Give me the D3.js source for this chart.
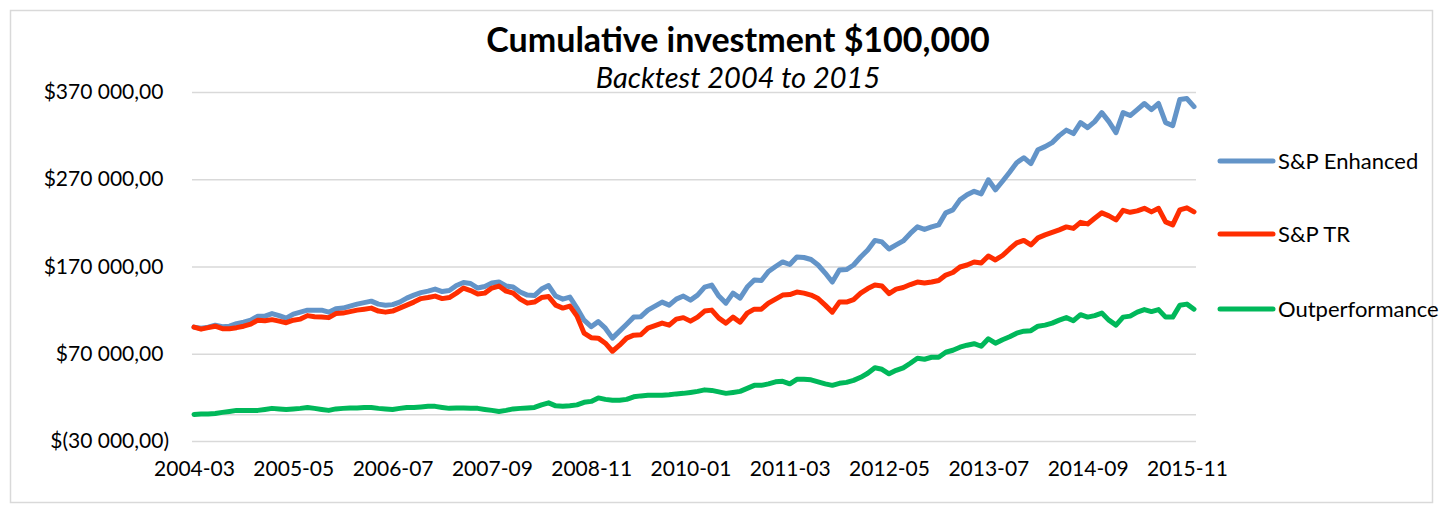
<!DOCTYPE html>
<html>
<head>
<meta charset="utf-8">
<script src="https://cdn.jsdelivr.net/npm/d3@7/dist/d3.min.js"></script>
<style>
  body { margin: 0; background: #fff; }
  text { font-family: Lato, "Open Sans", sans-serif; fill: #000; }
</style>
</head>
<body>
<div id="chart"></div>
<script>
// monthly categories 2004-03 .. 2015-12
const months = [];
for (let k = 0; k < 142; k++) {
  const m = 2 + k;
  months.push(`${2004 + Math.floor(m / 12)}-${String(m % 12 + 1).padStart(2, "0")}`);
}

const tickLabels = ["2004-03", "2005-05", "2006-07", "2007-09", "2008-11", "2010-01",
  "2011-03", "2012-05", "2013-07", "2014-09", "2015-11"];

const yTicks = [-30000, 70000, 170000, 270000, 370000];

const seriesNames = ["S&P Enhanced", "S&P TR", "Outperformance"];

const enhanced = [
  100500, 99300, 100500, 102800, 101000, 101600, 104500, 106200, 108500, 113100,
  113100, 116000, 113700, 110800, 115400, 117700, 120000, 120000, 120000, 117700,
  121700, 122300, 124600, 126900, 128600, 130300, 126900, 125700, 126300, 129200,
  133800, 137200, 140100, 141800, 144100, 141300, 142400, 148200, 151600, 150500,
  145300, 147000, 151000, 152200, 147600, 146400, 140700, 137200, 136700, 144100,
  148200, 136100, 132600, 134900, 122300, 108500, 101000, 106800, 99300, 87900,
  95900, 103900, 112000, 112500, 120000, 124600, 129200, 125700, 132600, 136100,
  131500, 137200, 146400, 148700, 136100, 128000, 139500, 133800, 146400, 154500,
  153900, 164300, 170000, 175200, 172300, 180900, 180300, 178000, 171700, 162500,
  152200, 166000, 166500, 171700, 180900, 189000, 199900, 198200, 190100, 194700,
  199300, 207900, 215400, 212500, 215400, 217700, 231500, 234900, 246400, 252200,
  256200, 253300, 269400, 257900, 267700, 278000, 289000, 294700, 287800, 303900,
  307400, 312000, 320000, 326300, 322300, 334900, 329200, 336100, 346400, 336100,
  323400, 346400, 343000, 349900, 356800, 349900, 356800, 334900, 331500, 361400,
  362500, 353300
];

const totalReturn = [
  100500, 98200, 99900, 101600, 98700, 98700, 99900, 101600, 103900, 108500,
  107900, 109100, 107400, 105600, 108500, 109700, 113700, 112500, 112000, 111400,
  116000, 116600, 118300, 120000, 121100, 122300, 118900, 117700, 118900, 122300,
  125700, 129200, 133200, 134400, 136100, 133200, 134400, 139500, 145300, 142400,
  138400, 139500, 145300, 147600, 141800, 139500, 132600, 128000, 129200, 134400,
  135500, 125700, 122300, 124600, 113100, 93600, 88400, 87900, 82100, 72900,
  79800, 87900, 91300, 91800, 99300, 102200, 105100, 102800, 109700, 111400,
  107400, 112000, 118900, 120000, 110800, 105100, 112000, 106200, 116600, 121100,
  121100, 128000, 132600, 137200, 137800, 140700, 139500, 137200, 133200, 125700,
  117700, 129200, 129200, 132100, 139500, 144700, 148700, 147600, 139000, 144100,
  145900, 149300, 152200, 151000, 152200, 153900, 160200, 163100, 169400, 171700,
  175200, 174000, 182100, 177500, 182600, 190100, 197000, 199900, 194700, 202800,
  206200, 209100, 212000, 215400, 213700, 220600, 218800, 225200, 231500, 228000,
  223400, 234400, 232100, 233800, 236700, 232600, 236700, 221100, 217700, 234900,
  237200, 232600
];

const outperformance = [
  500, 1000, 1000, 1600, 2800, 3900, 5100, 5100, 5100, 5100,
  6200, 7400, 6800, 6200, 6800, 7400, 8500, 7400, 6200, 5100,
  6800, 7400, 7900, 7900, 8500, 8500, 7400, 6800, 6200, 7400,
  8500, 8500, 9100, 9700, 9700, 8500, 7400, 7900, 7900, 7400,
  7400, 6200, 5100, 3900, 5100, 6800, 7400, 7900, 8500, 11400,
  13700, 10300, 9700, 10300, 11400, 14300, 15400, 19400, 17700, 16600,
  16600, 17700, 20600, 21700, 22300, 22300, 22300, 22900, 24000, 24600,
  25700, 26900, 28600, 28000, 26300, 24600, 25700, 26900, 30300, 33800,
  33800, 35500, 37800, 38400, 35500, 40700, 40700, 40100, 37800, 35500,
  33800, 36100, 37200, 39500, 43000, 47600, 53900, 52200, 47000, 51000,
  53900, 59100, 64800, 63700, 66000, 66000, 71700, 74000, 77500, 79800,
  81500, 78600, 87200, 82100, 86100, 89500, 93600, 95900, 96400, 101600,
  102800, 105100, 108500, 111400, 107900, 114800, 112000, 113700, 116600, 108500,
  102800, 112000, 113100, 117700, 120600, 118300, 120600, 112000, 112000, 125700,
  126900, 121100
];

const colors = ["#6394c8", "#ff2d00", "#00b85a"];

const width = 1443;
const height = 513;
const margin = { top: 92, right: 247, bottom: 72, left: 192 };

const svg = d3.select("#chart")
  .append("svg")
  .attr("width", width)
  .attr("height", height);

// chart frame
svg.append("rect")
  .attr("x", 10.5).attr("y", 10.5)
  .attr("width", 1422).attr("height", 492)
  .attr("fill", "#fff")
  .attr("stroke", "#d9d9d9")
  .attr("stroke-width", 1.5);

const plotW = width - margin.left - margin.right;

const x = d3.scalePoint()
  .domain(months)
  .range([margin.left + 2, margin.left + 1002]);

const y = d3.scaleLinear()
  .domain([-30000, 370000])
  .range([height - margin.bottom, margin.top]);

// number format: $370 000,00 / $(30 000,00)
const loc = d3.formatLocale({ decimal: ",", thousands: " ", grouping: [3], currency: ["$", ""] });
const num = loc.format(",.2f");

// y axis + gridlines
const yAxis = svg.append("g")
  .attr("transform", `translate(${margin.left},0)`)
  .call(d3.axisLeft(y).tickValues(yTicks).tickSize(-plotW).tickPadding(23).tickFormat(() => ""));
yAxis.select(".domain").remove();
yAxis.selectAll(".tick line").attr("stroke", "#d9d9d9").attr("stroke-width", 1.5);
yAxis.selectAll(".tick text").each(function (d) {
  const t = d3.select(this).style("font-size", "21px");
  if (d < 0) {
    t.append("tspan").text(`$(${num(-d)})`);
  } else {
    t.append("tspan").text(`$${num(d)}`);
    t.append("tspan").attr("fill-opacity", 0).text(")");
  }
});

// zero line (category axis)
svg.append("line")
  .attr("x1", margin.left).attr("x2", margin.left + plotW)
  .attr("y1", y(0)).attr("y2", y(0))
  .attr("stroke", "#d9d9d9").attr("stroke-width", 1.5);

// x axis labels at the bottom
const xAxis = svg.append("g")
  .attr("transform", `translate(0,${y(-30000)})`)
  .call(d3.axisBottom(x).tickValues(tickLabels).tickSize(0).tickPadding(20));
xAxis.select(".domain").remove();
xAxis.selectAll(".tick text").style("font-size", "21px");

// lines
const allSeries = [enhanced, totalReturn, outperformance];
const line = d3.line()
  .x((d, i) => x(months[i]))
  .y(d => y(d));

svg.selectAll(".series")
  .data(allSeries)
  .enter()
  .append("path")
  .attr("class", "series")
  .attr("d", d => line(d))
  .attr("fill", "none")
  .attr("stroke", (d, i) => colors[i])
  .attr("stroke-width", 5)
  .attr("stroke-linejoin", "round")
  .attr("stroke-linecap", "round");

// title
svg.append("text")
  .attr("x", 738).attr("y", 52)
  .attr("text-anchor", "middle")
  .style("font-size", "34px")
  .style("font-weight", "bold")
  .text("Cumulative investment $100,000");

svg.append("text")
  .attr("x", 738).attr("y", 88)
  .attr("text-anchor", "middle")
  .style("font-size", "29px")
  .style("font-style", "italic")
  .text("Backtest 2004 to 2015");

// legend
const legendY = [161, 234, 309];
const legend = svg.selectAll(".legend")
  .data(seriesNames)
  .enter()
  .append("g")
  .attr("class", "legend")
  .attr("transform", (d, i) => `translate(1220,${legendY[i]})`);

legend.append("line")
  .attr("x1", 0).attr("x2", 53)
  .attr("stroke", (d, i) => colors[i])
  .attr("stroke-width", 5)
  .attr("stroke-linecap", "round");

legend.append("text")
  .attr("x", 58)
  .attr("dy", "0.35em")
  .style("font-size", "22px")
  .text(d => d);
</script>
</body>
</html>
